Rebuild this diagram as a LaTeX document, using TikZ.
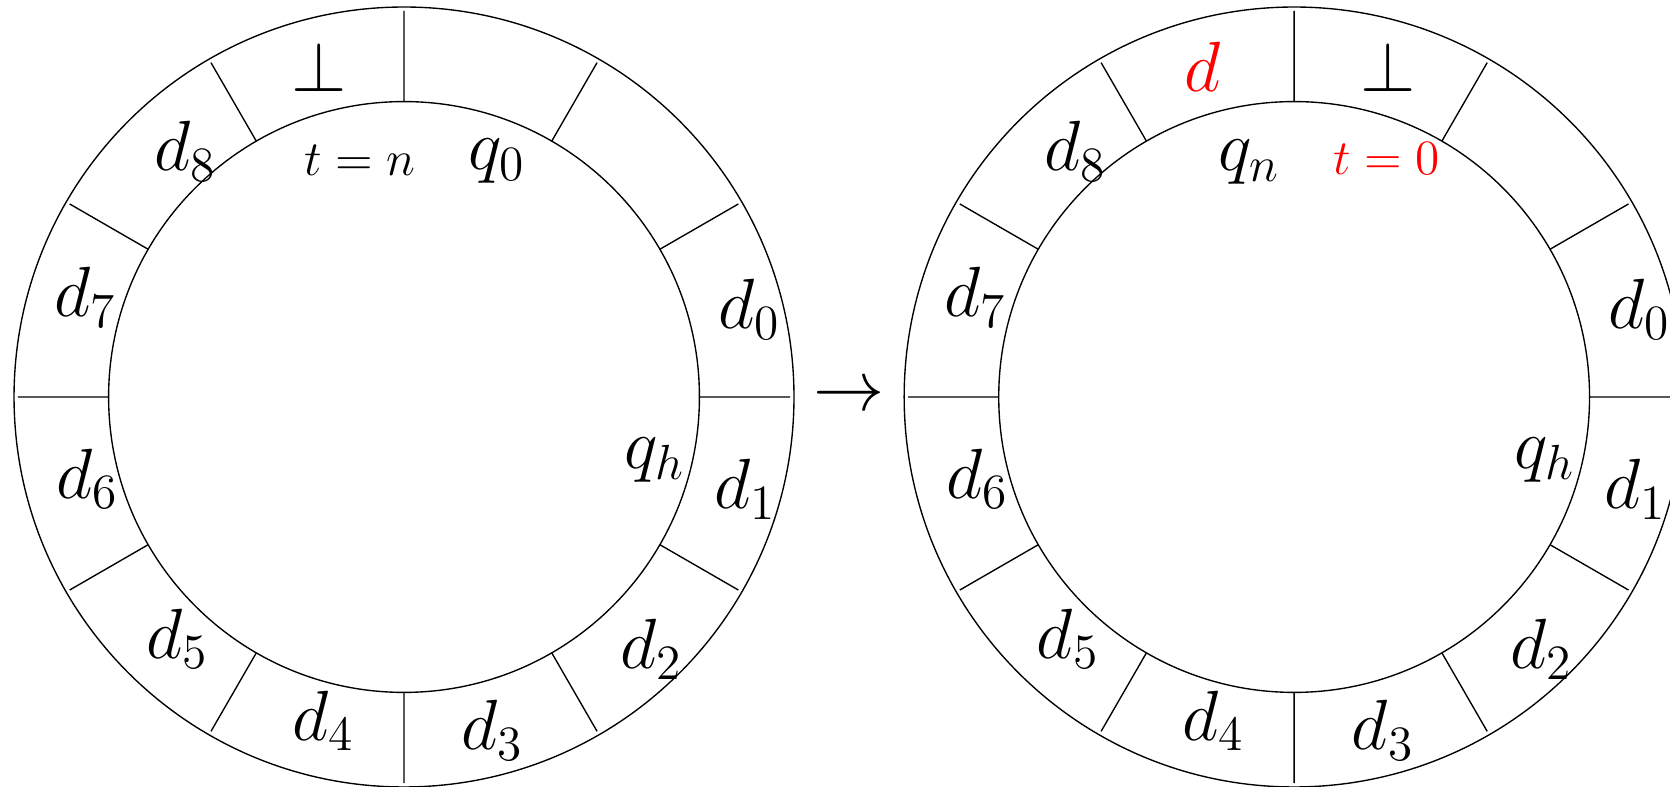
\documentclass[tikz,border=0pt]{standalone}
\usepackage{amsmath}
\usepackage{amssymb}
\usepackage{tikz}
\usetikzlibrary{positioning}
\tikzset{
	defaultstyle/.style={
		>=stealth,
		thin,
		inner sep=0pt}}

\begin{document}
\begin{tikzpicture}[defaultstyle,
	mycell/.style={font=\fontsize{21.5}{26}\selectfont},
	myhead/.style={font=\fontsize{21}{25}\selectfont},
	mytime/.style={font=\fontsize{13.5}{16}\selectfont},
	]
	\useasboundingbox (-4.144, -4.0) rectangle (12.985, 4.072);
	\clip (-4.144, -4.0) rectangle (12.985, 4.072);

	% tape before the step
	\coordinate (c1) at (0, 0);
	\draw (c1) circle (4) (c1) circle (3.03);
	\draw (0:3.03) -- (0:3.96) (30:3.03) -- (30:3.96) (60:3.03) -- (60:3.96)
		(90:3.03) -- (90:3.96) (120:3.03) -- (120:3.96) (150:3.03) -- (150:3.96)
		(180:3.03) -- (180:3.96) (210:3.03) -- (210:3.96) (240:3.03) -- (240:3.96)
		(270:3.03) -- (270:3.96) (300:3.03) -- (300:3.96) (330:3.03) -- (330:3.96);

	\node[mycell] (a0) at (3.54, 0.90) {$d_0$};
	\node[mycell] (a1) at (3.50, -0.95) {$d_1$};
	\node[mycell] (a2) at (2.54, -2.59) {$d_2$};
	\node[mycell] (a3) at (0.91, -3.42) {$d_3$};
	\node[mycell] (a4) at (-0.83, -3.32) {$d_4$};
	\node[mycell] (a5) at (-2.32, -2.48) {$d_5$};
	\node[mycell] (a6) at (-3.25, -0.84) {$d_6$};
	\node[mycell] (a7) at (-3.27, 1.02) {$d_7$};
	\node[mycell] (a8) at (-2.24, 2.52) {$d_8$};
	\node[mycell] (a9) at (-0.87, 3.39) {$\perp$};

	\node[mytime] (ta) at (-0.45, 2.43) {$t = n$};
	\node[myhead] (qa) at (0.95, 2.42) {$q_0$};
	\node[myhead] (ha) at (2.57, -0.65) {$q_h$};

	\node[myhead] (step) at (4.565, 0) {$\to$};

	% tape after the step
	\begin{scope}[xshift=9.13cm]
	\coordinate (c2) at (0, 0);
	\draw (c2) circle (4) (c2) circle (3.03);
	\draw (0:3.03) -- (0:3.96) (30:3.03) -- (30:3.96) (60:3.03) -- (60:3.96)
		(90:3.03) -- (90:3.96) (120:3.03) -- (120:3.96) (150:3.03) -- (150:3.96)
		(180:3.03) -- (180:3.96) (210:3.03) -- (210:3.96) (240:3.03) -- (240:3.96)
		(270:3.03) -- (270:3.96) (300:3.03) -- (300:3.96) (330:3.03) -- (330:3.96);

	\node[mycell] (b0) at (3.54, 0.90) {$d_0$};
	\node[mycell] (b1) at (3.50, -0.95) {$d_1$};
	\node[mycell] (b2) at (2.54, -2.59) {$d_2$};
	\node[mycell] (b3) at (0.91, -3.42) {$d_3$};
	\node[mycell] (b4) at (-0.83, -3.32) {$d_4$};
	\node[mycell] (b5) at (-2.32, -2.48) {$d_5$};
	\node[mycell] (b6) at (-3.25, -0.84) {$d_6$};
	\node[mycell] (b7) at (-3.27, 1.02) {$d_7$};
	\node[mycell] (b8) at (-2.24, 2.52) {$d_8$};
	\node[mycell, red] (b9) at (-0.94, 3.39) {$d$};
	\node[mycell] (b10) at (0.96, 3.39) {$\perp$};

	\node[myhead] (qb) at (-0.46, 2.41) {$q_n$};
	\node[mytime, red] (tb) at (0.95, 2.45) {$t = 0$};
	\node[myhead] (hb) at (2.57, -0.65) {$q_h$};
	\end{scope}
\end{tikzpicture}
\end{document}
